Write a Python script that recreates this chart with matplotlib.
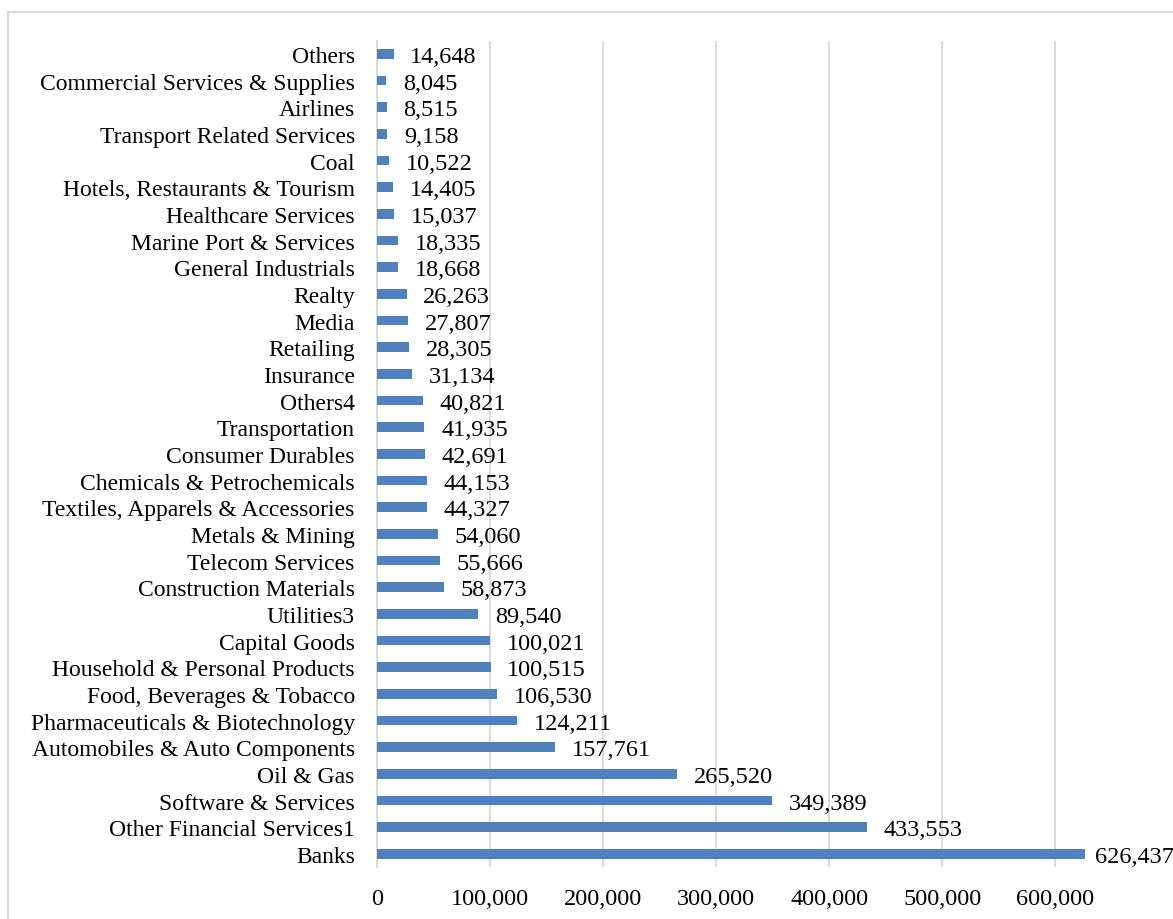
import matplotlib.pyplot as plt
from matplotlib.patches import Rectangle
from matplotlib.ticker import FuncFormatter

# sectors, bottom to top
sectors = ["Banks", "Other Financial Services1", "Software & Services", "Oil & Gas",
           "Automobiles & Auto Components", "Pharmaceuticals & Biotechnology",
           "Food, Beverages & Tobacco", "Household & Personal Products", "Capital Goods",
           "Utilities3", "Construction Materials", "Telecom Services", "Metals & Mining",
           "Textiles, Apparels & Accessories", "Chemicals & Petrochemicals",
           "Consumer Durables", "Transportation", "Others4", "Insurance", "Retailing",
           "Media", "Realty", "General Industrials", "Marine Port & Services",
           "Healthcare Services", "Hotels, Restaurants & Tourism", "Coal",
           "Transport Related Services", "Airlines", "Commercial Services & Supplies",
           "Others"]
values = [626437, 433553, 349389, 265520, 157761, 124211, 106530, 100515, 100021,
          89540, 58873, 55666, 54060, 44327, 44153, 42691, 41935, 40821, 31134, 28305,
          27807, 26263, 18668, 18335, 15037, 14405, 10522, 9158, 8515, 8045, 14648]
xticks = [0, 100000, 200000, 300000, 400000, 500000, 600000]

plt.rcParams['font.family'] = ['Liberation Serif', 'DejaVu Serif']

fig = plt.figure(figsize=(11.73, 9.2), dpi=100)

# light grey chart frame
fig.patches.append(Rectangle((8 / 1173, -0.05), 1.1, 1 - 13 / 920 + 0.05,
                             transform=fig.transFigure, fill=False,
                             edgecolor='#D9D9D9', linewidth=1.5))

ax = fig.add_axes([377 / 1173, 1 - 868.3 / 920, 780 / 1173, 826.7 / 920])
pos = range(len(sectors))
ax.barh(pos, values, height=0.36, color='#4F81BD', zorder=3)

for i, v in enumerate(values):
    off = 7 if v == max(values) else 12
    ax.annotate(f"{v:,}", (v, i), xytext=(off, 0), textcoords='offset points',
                va='center_baseline', ha='left', fontsize=17.5, annotation_clip=False)

ax.set_ylim(-0.5, len(sectors) - 0.5)
ax.set_xlim(0, 690000)
ax.set_yticks(list(pos))
ax.set_yticklabels(sectors, fontsize=17)
ax.set_xticks(xticks)
ax.xaxis.set_major_formatter(FuncFormatter(lambda x, p: f"{int(x):,}"))
ax.tick_params(axis='x', labelsize=17.5, length=0, pad=15)
ax.tick_params(axis='y', length=0, pad=16)
ax.grid(axis='x', color='#D9D9D9', linewidth=1.3, zorder=0)
for s in ['top', 'right', 'bottom']:
    ax.spines[s].set_visible(False)
ax.spines['left'].set_color('#D9D9D9')
ax.spines['left'].set_linewidth(1.3)

fig.savefig('out.png', dpi=100)
